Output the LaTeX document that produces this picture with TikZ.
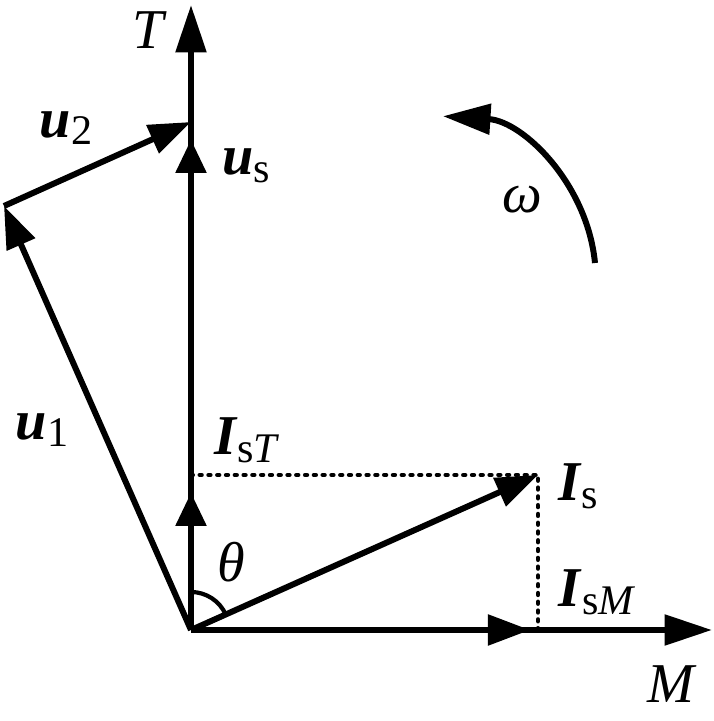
\documentclass[tikz,border=0pt]{standalone}
\usepackage{fontspec}
\setmainfont{Liberation Serif}
\usepackage{tikz}
\usetikzlibrary{arrows.meta, calc}

\newcommand{\lbl}{\fontsize{32}{36}\selectfont}
\newcommand{\subs}[1]{\raisebox{-0.3ex}{\fontsize{24}{26}\selectfont #1}}
\newcommand{\bvec}[1]{\textbf{\textit{#1}}}

\begin{document}
\begin{tikzpicture}[x=0.02cm, y=0.02cm,
		vec/.style = {line width=3.4pt, -{Triangle[length=24pt, width=17pt]}},
		axis/.style = {line width=3.4pt, -{Triangle[length=27pt, width=17pt]}},
		comp/.style = {line width=3.4pt, -{Triangle[length=19pt, width=17pt]}},
		proj/.style = {line width=2.6pt, line cap=round, dash pattern=on 1pt off 4pt},
		txt/.style = {inner sep=0pt, font=\lbl}]
		\useasboundingbox (-191,-91) rectangle (523,630);
		
		\coordinate (O) at (0,0);
		\coordinate (Tend) at (0,625);
		\coordinate (Mend) at (521,0);
		\coordinate (us) at (0,508);
		\coordinate (u1) at (-187,424);
		\coordinate (Is) at (347,155);
		\coordinate (IsT) at (0,155);
		\coordinate (IsM) at (347,0);
		
		% axes
		\draw[axis] (O) -- (Tend);
		\draw[axis] (O) -- (Mend);
		
		% voltages
		\draw[comp, shorten >=10pt] (O) -- (us);
		\draw[vec] (O) -- (u1);
		\draw[vec] (u1) -- (us);
		
		% current and its parts
		\draw[proj] (IsT) -- (Is);
		\draw[proj] (IsM) -- (Is);
		\draw[vec] (O) -- (Is);
		\draw[comp, shorten >=10pt] (O) -- (IsT);
		\draw[vec, shorten >=4.5pt] (O) -- (IsM);
		
		\draw[line width=2.4pt] ($(O)+(24:38)$) arc [start angle=24, end angle=90, radius=38];
		
		% rotation
		\draw[axis] (404,367) arc [start angle=5.6, end angle=86.4, radius=163];
		
		\node[txt] (lT) at (-41,600) {\textit{T}};
		\node[txt] (lM) at (481,-54) {\textit{M}};
		\node[txt] (lu2) at (-125,502) {\bvec{u}\subs{2}};
		\node[txt] (lus) at (55,464) {\bvec{u}\subs{s}};
		\node[txt] (lu1) at (-149,200) {\bvec{u}\subs{1}};
		\node[txt] (lw) at (331,430) {\textit{ω}};
		\node[txt] (lIsT) at (56,190) {\bvec{I}\subs{s\textit{T}}};
		\node[txt] (lIs) at (387,144) {\bvec{I}\subs{s}};
		\node[txt] (lIsM) at (406,38) {\bvec{I}\subs{s\textit{M}}};
		\node[txt] (lth) at (40,68) {\textit{θ}};
	\end{tikzpicture}
\end{document}
